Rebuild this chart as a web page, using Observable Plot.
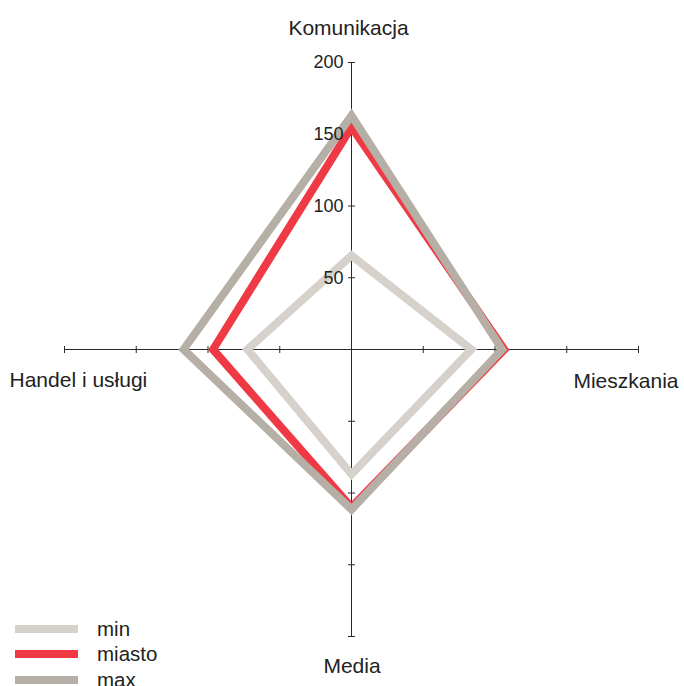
<!DOCTYPE html>
<html>
<head>
<meta charset="utf-8">
<script src="https://cdn.jsdelivr.net/npm/d3@7"></script>
<script src="https://cdn.jsdelivr.net/npm/@observablehq/plot@0.6"></script>
<style>
  html, body { margin: 0; padding: 0; background: #fff; }
  #wrap { position: relative; width: 684px; height: 686px; overflow: hidden; font-family: "Liberation Sans", Arial, Helvetica, sans-serif; color: #222; }
  #legend { position: absolute; left: 15px; top: 616px; }
  .item { display: flex; align-items: center; height: 25.5px; line-height: 22px; font-size: 20.5px; }
  .sw { width: 63px; height: 8px; margin-right: 19px; }
</style>
</head>
<body>
<div id="wrap"><div id="chart"></div><div id="legend"></div></div>
<script>
// ---- data ----
const categories = ["Komunikacja", "Mieszkania", "Media", "Handel i usługi"];
const seriesNames = ["min", "miasto", "max"];
const minValues = [65.5, 83.5, 87, 72.5];
const miastoValues = [155, 106.5, 110, 96.5];
const maxValues = [163, 105, 111.5, 117];
const tickValues = [50, 100, 150, 200];
const tickLabels = ["50", "100", "150", "200"];
const axisMax = 200;

// ---- styles / layout ----
const colors = { min: "#d6d1cb", miasto: "#ef3a45", max: "#b6afa5" };
const W = 684, H = 686, cx = 351, cy = 349, k = 287 / 200;
// direction of each category axis (unit vector in data space): up, right, down, left
const dirs = [[0, 1], [1, 0], [0, -1], [-1, 0]];
// label placement, in the same order as the categories (up, right, down, left)
const labelLayout = [
  { anchor: "middle", dx: -3, dy: -27.5 },
  { anchor: "end", dx: 40, dy: 38 },
  { anchor: "middle", dx: 0.5, dy: 36 },
  { anchor: "start", dx: -55, dy: 37 }
];

const valuesBySeries = { min: minValues, miasto: miastoValues, max: maxValues };
const polyData = [];
for (const s of seriesNames) {
  categories.forEach((c, i) => {
    const v = valuesBySeries[s][i];
    polyData.push({ series: s, category: c, x: dirs[i][0] * v, y: dirs[i][1] * v });
  });
}

const tickHalf = 3.5 / k;
const tickData = [];
for (const t of tickValues) {
  tickData.push({ x1: -tickHalf, x2: tickHalf, y1: t, y2: t });
  tickData.push({ x1: -tickHalf, x2: tickHalf, y1: -t, y2: -t });
  tickData.push({ x1: t, x2: t, y1: -tickHalf, y2: tickHalf });
  tickData.push({ x1: -t, x2: -t, y1: -tickHalf, y2: tickHalf });
}
const tickLabelData = tickValues.map((t, i) => ({ v: t, label: tickLabels[i] }));
const catLabelData = categories.map((c, i) => ({
  label: c, x: dirs[i][0] * axisMax, y: dirs[i][1] * axisMax, ...labelLayout[i]
}));

const chart = Plot.plot({
  width: W, height: H,
  marginTop: 0, marginRight: 0, marginBottom: 0, marginLeft: 0,
  style: { fontFamily: '"Liberation Sans", Arial, Helvetica, sans-serif', background: "#fff", color: "#222" },
  x: { domain: [-cx / k, (W - cx) / k], axis: null },
  y: { domain: [-(H - cy) / k, cy / k], axis: null },
  marks: [
    Plot.ruleX([0], { y1: -axisMax, y2: axisMax, stroke: "#2a2a2a", strokeWidth: 1 }),
    Plot.ruleY([0], { x1: -axisMax, x2: axisMax, stroke: "#2a2a2a", strokeWidth: 1 }),
    Plot.link(tickData, { x1: "x1", x2: "x2", y1: "y1", y2: "y2", stroke: "#2a2a2a", strokeWidth: 1 }),
    ...seriesNames.map(s => Plot.line(polyData.filter(d => d.series === s), {
      x: "x", y: "y", curve: "linear-closed", stroke: colors[s], strokeWidth: 8,
      strokeLinejoin: "miter", strokeMiterlimit: 10
    })),
    Plot.text(tickLabelData, { x: 0, y: "v", text: "label", textAnchor: "end", dx: -8, fontSize: 18, fill: "#222" }),
    ...catLabelData.map(d => Plot.text([d], {
      x: "x", y: "y", text: "label", textAnchor: d.anchor, lineAnchor: "bottom",
      dx: d.dx, dy: d.dy, fontSize: 21, fill: "#222"
    }))
  ]
});
document.getElementById("chart").appendChild(chart);

const legend = document.getElementById("legend");
for (const s of seriesNames) {
  const item = document.createElement("div");
  item.className = "item";
  const sw = document.createElement("div");
  sw.className = "sw";
  sw.style.background = colors[s];
  const lab = document.createElement("span");
  lab.textContent = s;
  item.appendChild(sw); item.appendChild(lab);
  legend.appendChild(item);
}
</script>
</body>
</html>
